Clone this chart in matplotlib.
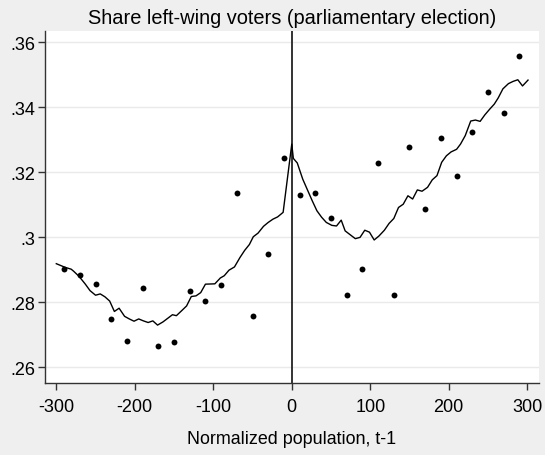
import numpy as np
import matplotlib
matplotlib.use('Agg')
import matplotlib.pyplot as plt

plt.rcParams['font.family'] = ['Liberation Sans', 'DejaVu Sans']

# bin means (scatter)
bin_x = [-290, -270, -250, -230, -210, -190, -170, -150, -130, -110,
         -90, -70, -50, -30, -10, 10, 30, 50, 70, 90,
         110, 130, 150, 170, 190, 210, 230, 250, 270, 290]
bin_share = [.2902, .2883, .2858, .2749, .2681, .2844, .2666, .2679, .2835, .2805,
             .2852, .3137, .2759, .2950, .3244, .3131, .3137, .3060, .2823, .2902,
             .3229, .2822, .3279, .3086, .3305, .3190, .3325, .3447, .3383, .3558]

# smoothed fit
fit_x = [-300, -289, -281, -278, -271, -263, -257, -250, -244, -238, -232, -226,
         -220, -213, -207, -201, -195, -189, -183, -177, -171, -164, -158, -152,
         -147, -140, -134, -128, -122, -116, -110, -98, -91, -86, -80, -73, -66,
         -60, -54, -49, -43, -36, -30, -24, -18, -11, 0,
         2, 7, 14, 20, 26, 32, 38, 44, 51, 57, 63, 68, 75, 81, 87, 93, 99, 105,
         111, 118, 124, 130, 136, 142, 148, 154, 160, 166, 173, 179, 185, 191,
         197, 203, 210, 215, 221, 228, 234, 240, 246, 252, 258, 263, 269, 276,
         282, 288, 294, 301]
fit_share = [.2919, .2908, .2902, .2896, .2880, .2856, .2836, .2822, .2826, .2817,
             .2804, .2772, .2782, .2757, .2749, .2742, .2749, .2743, .2738, .2743,
             .2730, .2740, .2751, .2762, .2759, .2775, .2789, .2818, .2820, .2830,
             .2856, .2857, .2875, .2882, .2899, .2909, .2938, .2960, .2978, .3002,
             .3013, .3034, .3046, .3056, .3063, .3077, .3287,
             .3243, .3229, .3179, .3146, .3113, .3082, .3062, .3046, .3037, .3035,
             .3053, .3020, .3007, .2996, .3000, .3022, .3016, .2992, .3004, .3022,
             .3043, .3058, .3092, .3102, .3128, .3118, .3146, .3142, .3154, .3177,
             .3190, .3231, .3251, .3263, .3271, .3287, .3313, .3358, .3361, .3357,
             .3377, .3394, .3410, .3429, .3457, .3473, .3480, .3485, .3466, .3484]

x_ticks = [-300, -200, -100, 0, 100, 200, 300]
y_ticks = [.26, .28, .30, .32, .34, .36]
y_labels = ['.26', '.28', '.3', '.32', '.34', '.36']

fig = plt.figure(figsize=(5.45, 4.56), dpi=100, facecolor='#efefef')
ax = fig.add_axes([0.0817, 0.158, 0.9073, 0.7718])
ax.set_facecolor('white')

# light horizontal grid
for yv in y_ticks:
    ax.axhline(yv, color='#eaeaea', linewidth=1.0, zorder=0)

# cutoff line
ax.axvline(0, color='#333333', linewidth=1.4, zorder=2)
ax.plot(fit_x, fit_share, color='black', linewidth=1.0, zorder=3)
ax.scatter(bin_x, bin_share, s=18, color='black', zorder=4, linewidths=0)

ax.set_xlim(-315, 315)
ax.set_ylim(.2552, .3635)
ax.set_xticks(x_ticks)
ax.set_xticklabels([str(t) for t in x_ticks])
ax.set_yticks(y_ticks)
ax.set_yticklabels(y_labels)

for side in ['top', 'right']:
    ax.spines[side].set_visible(False)
for side in ['left', 'bottom']:
    ax.spines[side].set_color('#333333')
    ax.spines[side].set_linewidth(1.0)

ax.tick_params(axis='both', direction='out', length=4.7, width=1.0, color='#333333',
               labelsize=13, labelcolor='black')
ax.tick_params(axis='x', pad=6)
ax.tick_params(axis='y', pad=2)

ax.set_title('Share left-wing voters (parliamentary election)', fontsize=14.4, pad=6)
ax.set_xlabel('Normalized population, t-1', fontsize=12.9, labelpad=11)

fig.savefig('out.png', dpi=100, facecolor=fig.get_facecolor())
